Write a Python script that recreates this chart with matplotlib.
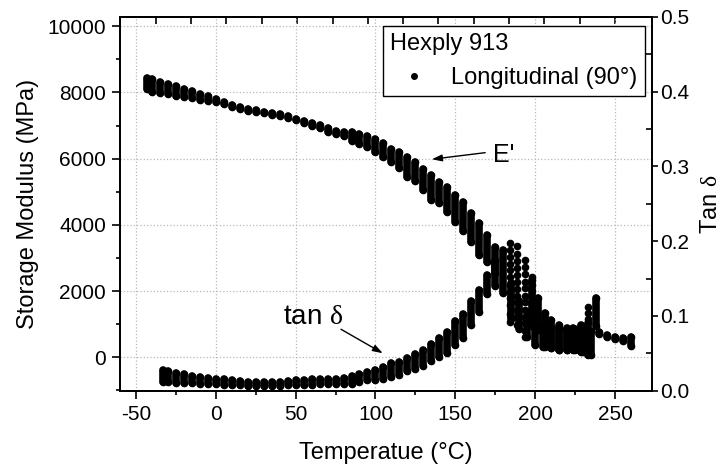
import matplotlib.pyplot as plt
from matplotlib.lines import Line2D
from matplotlib.ticker import MultipleLocator

plt.rcParams['font.family'] = ['Liberation Sans', 'DejaVu Sans']
plt.rcParams['mathtext.fontset'] = 'custom'
plt.rcParams['mathtext.rm'] = 'Liberation Serif'
plt.rcParams['axes.unicode_minus'] = False

# storage modulus E' (MPa): temperature, top and bottom of each cluster of points
E_T = [-43, -40, -35, -30, -25, -20, -15, -10, -5, 0, 5, 10, 15, 20, 25, 30, 35, 40, 45, 50,
       55, 60, 65, 70, 75, 80, 85, 90, 95, 100, 105, 110, 115, 120, 125, 130, 135, 140, 145,
       150, 155, 160, 165, 170, 175, 180, 185, 190, 195, 200, 205, 210, 215, 220, 225, 230,
       235, 240, 245, 250, 255, 260]
E_hi = [8440, 8420, 8320, 8250, 8180, 8100, 8030, 7960, 7880, 7790, 7700, 7610, 7550, 7490,
        7460, 7420, 7370, 7340, 7290, 7210, 7140, 7080, 7010, 6920, 6850, 6800, 6800, 6740,
        6680, 6590, 6480, 6290, 6210, 6060, 5900, 5700, 5500, 5300, 5150, 4900, 4680, 4350,
        4050, 3700, 3340, 3240, 2250, 1700, 1250, 1050, 950, 900, 880, 850, 850, 830, 780,
        760, 680, 610, 580, 600]
E_lo = [8100, 8020, 7990, 7950, 7900, 7860, 7820, 7780, 7740, 7700, 7640, 7550, 7490, 7440,
        7410, 7370, 7320, 7290, 7240, 7160, 7070, 7000, 6920, 6820, 6740, 6680, 6520, 6430,
        6340, 6210, 6060, 5910, 5710, 5460, 5330, 5060, 4750, 4650, 4400, 4100, 3800, 3490,
        3090, 2890, 2540, 1930, 1150, 850, 600, 370, 310, 270, 220, 220, 220, 170, 70,
        690, 610, 540, 500, 330]

# tan delta: temperature, top and bottom of each cluster
tan_T = [-33, -30, -25, -20, -15, -10, -5, 0, 5, 10, 15, 20, 25, 30, 35, 40, 45, 50, 55, 60,
         65, 70, 75, 80, 85, 90, 95, 100, 105, 110, 115, 120, 125, 130, 135, 140, 145, 150,
         155, 160, 165, 170, 175, 198, 202, 206, 210, 215, 220, 224, 229, 233, 238]
tan_hi = [0.0275, 0.026, 0.024, 0.022, 0.020, 0.018, 0.017, 0.016, 0.015, 0.014, 0.013,
          0.012, 0.012, 0.012, 0.012, 0.012, 0.013, 0.014, 0.014, 0.015, 0.015, 0.016, 0.016,
          0.017, 0.019, 0.022, 0.025, 0.0275, 0.032, 0.0365, 0.039, 0.044, 0.049, 0.055,
          0.062, 0.071, 0.079, 0.093, 0.103, 0.120, 0.135, 0.155, 0.175, 0.148, 0.124,
          0.104, 0.095, 0.088, 0.084, 0.084, 0.088, 0.090, 0.124]
tan_lo = [0.012, 0.011, 0.010, 0.010, 0.010, 0.0095, 0.009, 0.0095, 0.008, 0.0075, 0.007,
          0.0065, 0.006, 0.006, 0.006, 0.0065, 0.007, 0.0075, 0.008, 0.008, 0.0085, 0.0095,
          0.0095, 0.009, 0.0096, 0.011, 0.014, 0.014, 0.0163, 0.0185, 0.021, 0.026, 0.029,
          0.033, 0.040, 0.045, 0.050, 0.061, 0.070, 0.088, 0.105, 0.130, 0.140, 0.090,
          0.081, 0.058, 0.057, 0.054, 0.054, 0.054, 0.052, 0.048, 0.086]

# separate points around the tan delta peak
peak_T = [184.3] * 12 + [188.9] * 12 + [193.7] * 12 + [197.8] * 8 + [233.4] * 3
peak_tan = [0.198, 0.188, 0.179, 0.170, 0.161, 0.152, 0.141, 0.132, 0.124, 0.115, 0.103, 0.092,
            0.193, 0.183, 0.174, 0.164, 0.155, 0.146, 0.136, 0.127, 0.118, 0.108, 0.099, 0.088,
            0.175, 0.165, 0.156, 0.146, 0.137, 0.127, 0.118, 0.108, 0.099, 0.090, 0.080, 0.072,
            0.152, 0.142, 0.133, 0.124, 0.114, 0.105, 0.095, 0.086,
            0.112, 0.104, 0.096]

top_ticks = [-37.5, -15.4, 6.7, 28.8, 51.0, 73.1, 95.2, 117.3, 139.4, 161.5, 183.7, 205.8,
             227.9, 250.0]

ms = 5.5

fig = plt.figure(figsize=(7.21, 4.68), dpi=100)
ax = fig.add_axes([0.1664, 0.1652, 0.7375, 0.7985])
ax2 = ax.twinx()

ax.vlines(E_T, E_lo, E_hi, colors='black', linewidth=ms, capstyle='round', zorder=3)
ax.scatter(E_T + E_T, E_hi + E_lo, s=ms ** 2, c='black', linewidths=0, zorder=3)

ax2.vlines(tan_T, tan_lo, tan_hi, colors='black', linewidth=ms, capstyle='round', zorder=3)
ax2.scatter(tan_T + tan_T, tan_hi + tan_lo, s=ms ** 2, c='black', linewidths=0, zorder=3)
ax2.scatter(peak_T, peak_tan, s=ms ** 2, c='black', linewidths=0, zorder=3)

ax.set_xlim(-60, 273)
ax.set_ylim(-1010, 10280)
ax2.set_ylim(0, 0.5)

ax.set_xticks(range(-50, 251, 50))
ax.xaxis.set_minor_locator(MultipleLocator(25))
ax.set_yticks(range(0, 10001, 2000))
ax.yaxis.set_minor_locator(MultipleLocator(1000))
ax2.set_yticks([0.0, 0.1, 0.2, 0.3, 0.4, 0.5])
ax2.set_yticklabels(['0.0', '0.1', '0.2', '0.3', '0.4', '0.5'])
ax2.yaxis.set_minor_locator(MultipleLocator(0.05))

ax.tick_params(which='major', direction='out', length=6, width=1.2, labelsize=15, pad=4)
ax.tick_params(which='minor', direction='out', length=3, width=1.2)
ax.tick_params(top=False, right=False, which='both')
ax2.tick_params(which='major', direction='out', length=4.5, width=1.2, labelsize=15, pad=1.5)
ax2.tick_params(which='minor', direction='in', length=4, width=1.2)

sec = ax.secondary_xaxis('top')
sec.set_xticks(top_ticks)
sec.tick_params(direction='in', length=5, width=1.2, labeltop=False)

for a in (ax, ax2):
    for s in a.spines.values():
        s.set_linewidth(1.3)
sec.spines['top'].set_linewidth(1.3)

ax.grid(True, which='major', linestyle=':', color='#b8b8b8', linewidth=0.9)
ax.set_axisbelow(True)

ax.set_xlabel('Temperatue (°C)', fontsize=17, labelpad=13)
ax.set_ylabel('Storage Modulus (MPa)', fontsize=17, labelpad=6)
ax2.set_ylabel('Tan $\\mathrm{\\delta}$', fontsize=17, labelpad=8)

ax.text(180, 6111, "E'", fontsize=18, ha='center', va='center')
ax.annotate('', xy=(135.3, 5982), xytext=(168.7, 6181),
            arrowprops=dict(arrowstyle='-|>,head_length=0.6,head_width=0.2', color='black',
                            lw=1, shrinkA=0, shrinkB=0))
ax.text(60.9, 1217, 'tan $\\mathrm{\\delta}$', fontsize=20, ha='center', va='center')
ax.annotate('', xy=(104.6, 121), xytext=(78.4, 846),
            arrowprops=dict(arrowstyle='-|>,head_length=0.6,head_width=0.2', color='black',
                            lw=1, shrinkA=0, shrinkB=0))

handle = Line2D([], [], marker='o', color='black', linestyle='None', markersize=4)
leg = ax2.legend([handle], ['Longitudinal (90°)'], title='Hexply 913', loc='upper right',
                 bbox_to_anchor=(0.987, 0.976), borderaxespad=0, fontsize=17,
                 title_fontsize=17, fancybox=False, edgecolor='black', alignment='left',
                 handletextpad=0.6, borderpad=0.3, handlelength=2, framealpha=1)
leg.get_frame().set_linewidth(1.0)

fig.savefig('out.png', dpi=100)
